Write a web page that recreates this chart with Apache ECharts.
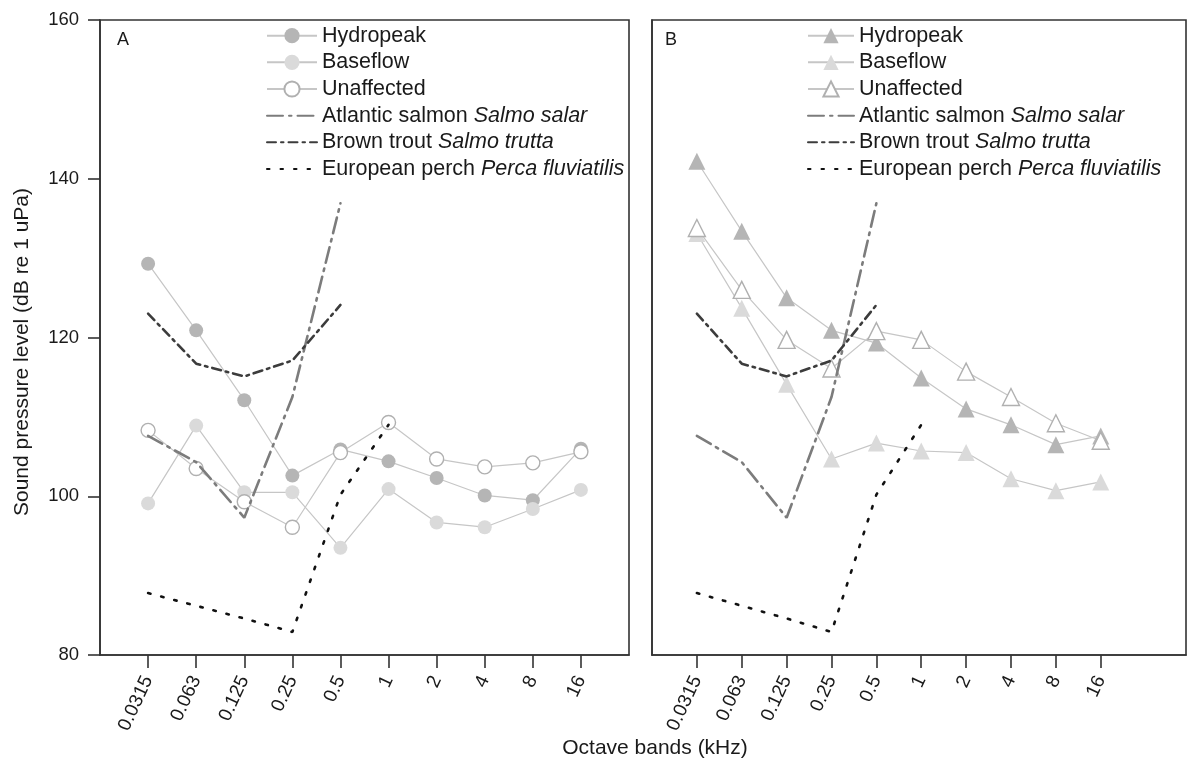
<!DOCTYPE html>
<html>
<head>
<meta charset="utf-8">
<script src="https://cdn.jsdelivr.net/npm/echarts@6/dist/echarts.min.js"></script>
<style>
html,body{margin:0;padding:0;background:#fff;}
#chart{width:1192px;height:766px;}
</style>
</head>
<body>
<div id="chart"></div>
<script>
// ---- Data ----
const bands = ['0.0315','0.063','0.125','0.25','0.5','1','2','4','8','16'];
const yTicks = [80, 100, 120, 140, 160];

const hydropeakA  = [129.3, 120.9, 112.1, 102.6, 105.9, 104.4, 102.3, 100.1, 99.5, 106.0];
const baseflowA   = [99.1, 108.9, 100.5, 100.5, 93.5, 100.9, 96.7, 96.1, 98.4, 100.8];
const unaffectedA = [108.3, 103.5, 99.3, 96.1, 105.5, 109.3, 104.7, 103.7, 104.2, 105.6];

const hydropeakB  = [142.2, 133.4, 125.0, 120.9, 119.3, 114.9, 111.0, 109.0, 106.5, 107.6];
const baseflowB   = [133.1, 123.7, 114.1, 104.7, 106.7, 105.7, 105.5, 102.2, 100.7, 101.8];
const unaffectedB = [133.8, 126.0, 119.7, 116.1, 120.8, 119.7, 115.7, 112.5, 109.2, 107.0];

// Hearing thresholds (same in both panels)
const salmon = [107.6, 104.3, 97.3, 112.5, 136.9];
const trout  = [123.0, 116.7, 115.1, 117.1, 124.1];
const perch  = [87.8, 86.2, 84.6, 82.9, 100.2, 109.0];

// ---- helpers ----
const pts = arr => arr.map((v, i) => [i, v]);
const idx = bands.map((b, i) => i);

const FONT = '"Liberation Sans", Arial, sans-serif';
const AXIS = '#333';
const LINK = '#c6c6c6';

function markerSeries(name, data, gi, symbol, fill, border) {
  return {
    name: name, type: 'line', xAxisIndex: gi, yAxisIndex: gi,
    data: pts(data), symbol: symbol, symbolSize: symbol === 'triangle' ? 17 : 14,
    lineStyle: { color: LINK, width: 1.2 },
    itemStyle: { color: fill, borderColor: border, borderWidth: border ? 1.4 : 0 },
    emphasis: { disabled: true }, z: 3
  };
}
function thresholdSeries(name, data, gi, color, type, width) {
  return {
    name: name, type: 'line', xAxisIndex: gi, yAxisIndex: gi,
    data: pts(data), symbol: 'none',
    lineStyle: { color: color, width: width, type: type, cap: 'round' },
    itemStyle: { color: color },
    emphasis: { disabled: true }, z: 4
  };
}

const SALMON_COL = '#7c7c7c', TROUT_COL = '#3c3c3c', PERCH_COL = '#111';
const SALMON_DASH = [16, 6, 2.5, 6], TROUT_DASH = [9, 5, 2.5, 5], PERCH_DASH = [2.5, 11];

const labelMap = {
  'Hydropeak': 'Hydropeak', 'Baseflow': 'Baseflow', 'Unaffected': 'Unaffected',
  'Hydropeak (B)': 'Hydropeak', 'Baseflow (B)': 'Baseflow', 'Unaffected (B)': 'Unaffected',
  'Atlantic salmon': '{n|Atlantic salmon }{i|Salmo salar}',
  'Brown trout': '{n|Brown trout }{i|Salmo trutta}',
  'European perch': '{n|European perch }{i|Perca fluviatilis}'
};
const richText = {
  n: { fontFamily: FONT, fontSize: 21.5, color: '#1a1a1a', lineHeight: 24 },
  i: { fontFamily: FONT, fontSize: 21.5, color: '#1a1a1a', fontStyle: 'italic', lineHeight: 24 }
};
const hideSym = { color: 'rgba(0,0,0,0)', borderWidth: 0 };
function legend(left, names, itemWidth) {
  return {
    orient: 'vertical', left: left, top: 23.7, padding: 0,
    itemWidth: itemWidth, itemHeight: 19, itemGap: 2.65,
    selectedMode: false,
    data: names.map((n, k) => k >= 3 ? { name: n, itemStyle: hideSym } : { name: n }),
    formatter: n => labelMap[n],
    textStyle: { fontFamily: FONT, fontSize: 21.5, color: '#1a1a1a', lineHeight: 24, rich: richText }
  };
}

function xAxis(gi, max) {
  return {
    type: 'value', gridIndex: gi, min: -1, max: max,
    axisLine: { show: true, onZero: false, lineStyle: { color: AXIS, width: 1.6 } },
    axisTick: { show: true, length: 13, customValues: idx, lineStyle: { color: AXIS, width: 1.6 } },
    axisLabel: {
      customValues: idx, rotate: 65, margin: 22, fontFamily: FONT, fontSize: 19, color: '#1a1a1a',
      formatter: v => bands[Math.round(v)]
    },
    splitLine: { show: false }
  };
}
function yAxis(gi, showLabels) {
  return {
    type: 'value', gridIndex: gi, min: 80, max: 160, interval: 20,
    axisLine: { show: true, onZero: false, lineStyle: { color: AXIS, width: 1.6 } },
    axisTick: { show: showLabels, length: 12, lineStyle: { color: AXIS, width: 1.6 } },
    axisLabel: { show: showLabels, margin: 21, fontFamily: FONT, fontSize: 18.5, color: '#1a1a1a',
      formatter: v => yTicks.indexOf(v) >= 0 ? String(v) : '' },
    splitLine: { show: false }
  };
}

const chart = echarts.init(document.getElementById('chart'), null, { renderer: 'canvas' });
chart.setOption({
  animation: false,
  backgroundColor: '#fff',
  textStyle: { fontFamily: FONT },
  grid: [
    { left: 100, right: 563, top: 20, bottom: 111, show: true, borderColor: AXIS, borderWidth: 1.6, backgroundColor: 'transparent' },
    { left: 652, right: 6, top: 20, bottom: 111, show: true, borderColor: AXIS, borderWidth: 1.6, backgroundColor: 'transparent' }
  ],
  xAxis: [xAxis(0, 10), xAxis(1, 10.9)],
  yAxis: [yAxis(0, true), yAxis(1, false)],
  legend: [
    legend(266, ['Hydropeak', 'Baseflow', 'Unaffected', 'Atlantic salmon', 'Brown trout', 'European perch'], 50),
    legend(807, ['Hydropeak (B)', 'Baseflow (B)', 'Unaffected (B)', 'Atlantic salmon', 'Brown trout', 'European perch'], 46)
  ],
  series: [
    markerSeries('Hydropeak', hydropeakA, 0, 'circle', '#b5b5b5', null),
    markerSeries('Baseflow', baseflowA, 0, 'circle', '#dadada', null),
    markerSeries('Unaffected', unaffectedA, 0, 'circle', '#ffffff', '#b0b0b0'),
    thresholdSeries('Atlantic salmon', salmon, 0, SALMON_COL, SALMON_DASH, 2.6),
    thresholdSeries('Brown trout', trout, 0, TROUT_COL, TROUT_DASH, 2.6),
    thresholdSeries('European perch', perch, 0, PERCH_COL, PERCH_DASH, 2.6),

    markerSeries('Hydropeak (B)', hydropeakB, 1, 'triangle', '#b5b5b5', null),
    markerSeries('Baseflow (B)', baseflowB, 1, 'triangle', '#dadada', null),
    markerSeries('Unaffected (B)', unaffectedB, 1, 'triangle', '#ffffff', '#b0b0b0'),
    thresholdSeries('Atlantic salmon', salmon, 1, SALMON_COL, SALMON_DASH, 2.6),
    thresholdSeries('Brown trout', trout, 1, TROUT_COL, TROUT_DASH, 2.6),
    thresholdSeries('European perch', perch, 1, PERCH_COL, PERCH_DASH, 2.6)
  ],
  graphic: [
    { type: 'text', left: 117, top: 31, style: { text: 'A', fontFamily: FONT, fontSize: 18, fill: '#1a1a1a' } },
    { type: 'text', left: 665, top: 31, style: { text: 'B', fontFamily: FONT, fontSize: 18, fill: '#1a1a1a' } },
    { type: 'text', x: 22, y: 352, rotation: Math.PI / 2,
      style: { text: 'Sound pressure level (dB re 1 uPa)', fontFamily: FONT, fontSize: 21, fill: '#1a1a1a',
               align: 'center', verticalAlign: 'middle' } },
    { type: 'text', x: 655, y: 748,
      style: { text: 'Octave bands (kHz)', fontFamily: FONT, fontSize: 21, fill: '#1a1a1a',
               align: 'center', verticalAlign: 'middle' } }
  ]
});
</script>
</body>
</html>
